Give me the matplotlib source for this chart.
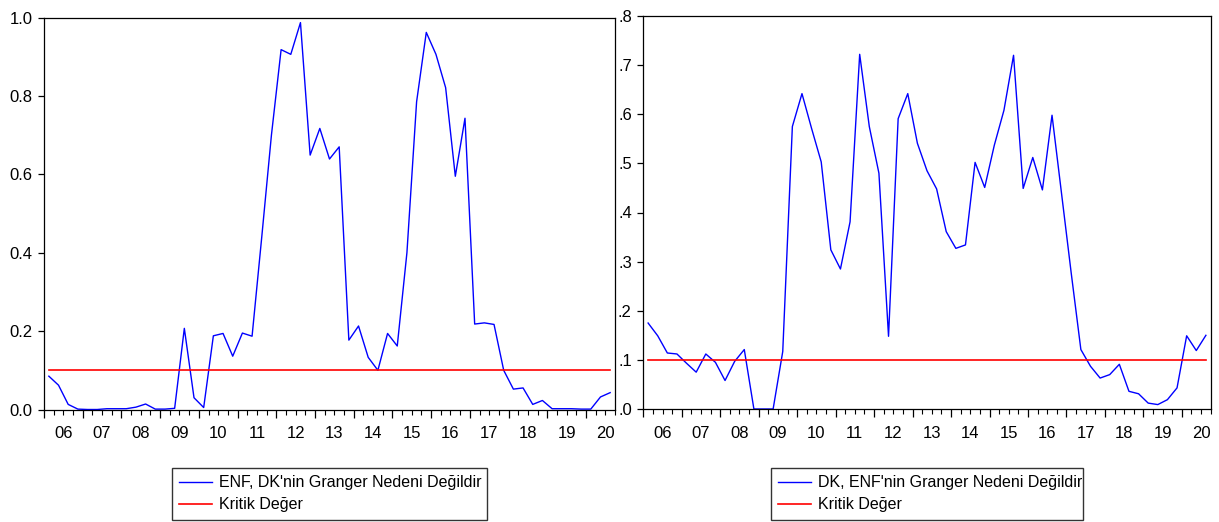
import matplotlib
matplotlib.use("Agg")
import matplotlib.pyplot as plt
import numpy as np

plt.rcParams['font.family'] = ['Liberation Sans', 'DejaVu Sans']

# quarterly rolling p-values, 2006Q1 - 2020Q3
enf_dk = [0.085, 0.062, 0.013, 0.001, 0.0, 0.0, 0.002, 0.002, 0.002, 0.006,
          0.014, 0.001, 0.001, 0.003, 0.207, 0.030, 0.005, 0.188, 0.194, 0.136,
          0.195, 0.187, 0.44, 0.70, 0.918, 0.906, 0.987, 0.649, 0.717, 0.639,
          0.670, 0.177, 0.213, 0.133, 0.100, 0.194, 0.162, 0.40, 0.785, 0.962,
          0.906, 0.821, 0.595, 0.743, 0.218, 0.221, 0.217, 0.100, 0.052, 0.055,
          0.013, 0.023, 0.002, 0.002, 0.002, 0.001, 0.001, 0.032, 0.043]
dk_enf = [0.175, 0.149, 0.114, 0.112, 0.093, 0.075, 0.112, 0.095, 0.058, 0.097,
          0.121, 0.0, 0.0, 0.0, 0.117, 0.575, 0.642, 0.571, 0.503, 0.324,
          0.285, 0.381, 0.722, 0.575, 0.480, 0.148, 0.591, 0.642, 0.541, 0.485,
          0.448, 0.361, 0.327, 0.334, 0.502, 0.451, 0.537, 0.608, 0.720, 0.449,
          0.512, 0.446, 0.598, 0.437, 0.276, 0.121, 0.087, 0.063, 0.070, 0.091,
          0.036, 0.031, 0.012, 0.009, 0.019, 0.043, 0.149, 0.119, 0.150]
kritik = 0.10
years = ['06', '07', '08', '09', '10', '11', '12', '13', '14', '15', '16', '17', '18', '19', '20']

labels_left = ["ENF, DK'nin Granger Nedeni Değildir", "Kritik Değer"]
labels_right = ["DK, ENF'nin Granger Nedeni Değildir", "Kritik Değer"]

W, H = 1219, 522
fig = plt.figure(figsize=(W / 100, H / 100), dpi=100)

ax1 = fig.add_axes([44 / W, 1 - 409.5 / H, 571 / W, 392 / H])
ax2 = fig.add_axes([643.3 / W, 1 - 409 / H, 567.4 / W, 393 / H])


def draw(ax, vals, ymax, yticks, yticklabels, labels, leg_x, leg_w):
    x = np.arange(len(vals))
    l1, = ax.plot(x, vals, color='#0000ff', lw=1.0)
    l2, = ax.plot([x[0], x[-1]], [kritik, kritik], color='#ff0000', lw=1.2)
    ax.set_xlim(-0.5, len(vals) - 0.5)
    ax.set_ylim(0, ymax)
    ax.set_yticks(yticks)
    ax.set_yticklabels(yticklabels)
    # year boundaries as major ticks, quarters as minor
    ax.set_xticks(np.arange(-0.5, len(vals), 4))
    ax.set_xticklabels([])
    ax.set_xticks(np.arange(-0.5, len(vals), 1), minor=True)
    for j, yr in enumerate(years):
        ax.text(1.5 + 4 * j, -0.042 * ymax, yr, ha='center', va='top', fontsize=12,
                transform=ax.transData)
    ax.tick_params(axis='x', which='major', direction='out', length=6, width=0.9)
    ax.tick_params(axis='x', which='minor', direction='out', length=3.5, width=0.8)
    ax.tick_params(axis='y', direction='out', length=4.3, width=0.9, pad=4, labelsize=12)
    for s in ax.spines.values():
        s.set_linewidth(0.9)
        s.set_color('black')
    fig.legend([l1, l2], labels, loc='upper left',
               bbox_to_anchor=(leg_x / W, 0, leg_w / W, (H - 468) / H),
               mode='expand', borderaxespad=0, fontsize=11.5, frameon=True,
               fancybox=False, edgecolor='#333333', framealpha=1,
               handlelength=2.1, handletextpad=0.4, labelspacing=0.45,
               borderpad=0.45)


draw(ax1, enf_dk, 1.0, [0, 0.2, 0.4, 0.6, 0.8, 1.0],
     ['0.0', '0.2', '0.4', '0.6', '0.8', '1.0'], labels_left, 171.7, 315)
draw(ax2, dk_enf, 0.8, [0, 0.1, 0.2, 0.3, 0.4, 0.5, 0.6, 0.7, 0.8],
     ['.0', '.1', '.2', '.3', '.4', '.5', '.6', '.7', '.8'], labels_right, 770.7, 312.3)

fig.savefig('out.png', dpi=100)
